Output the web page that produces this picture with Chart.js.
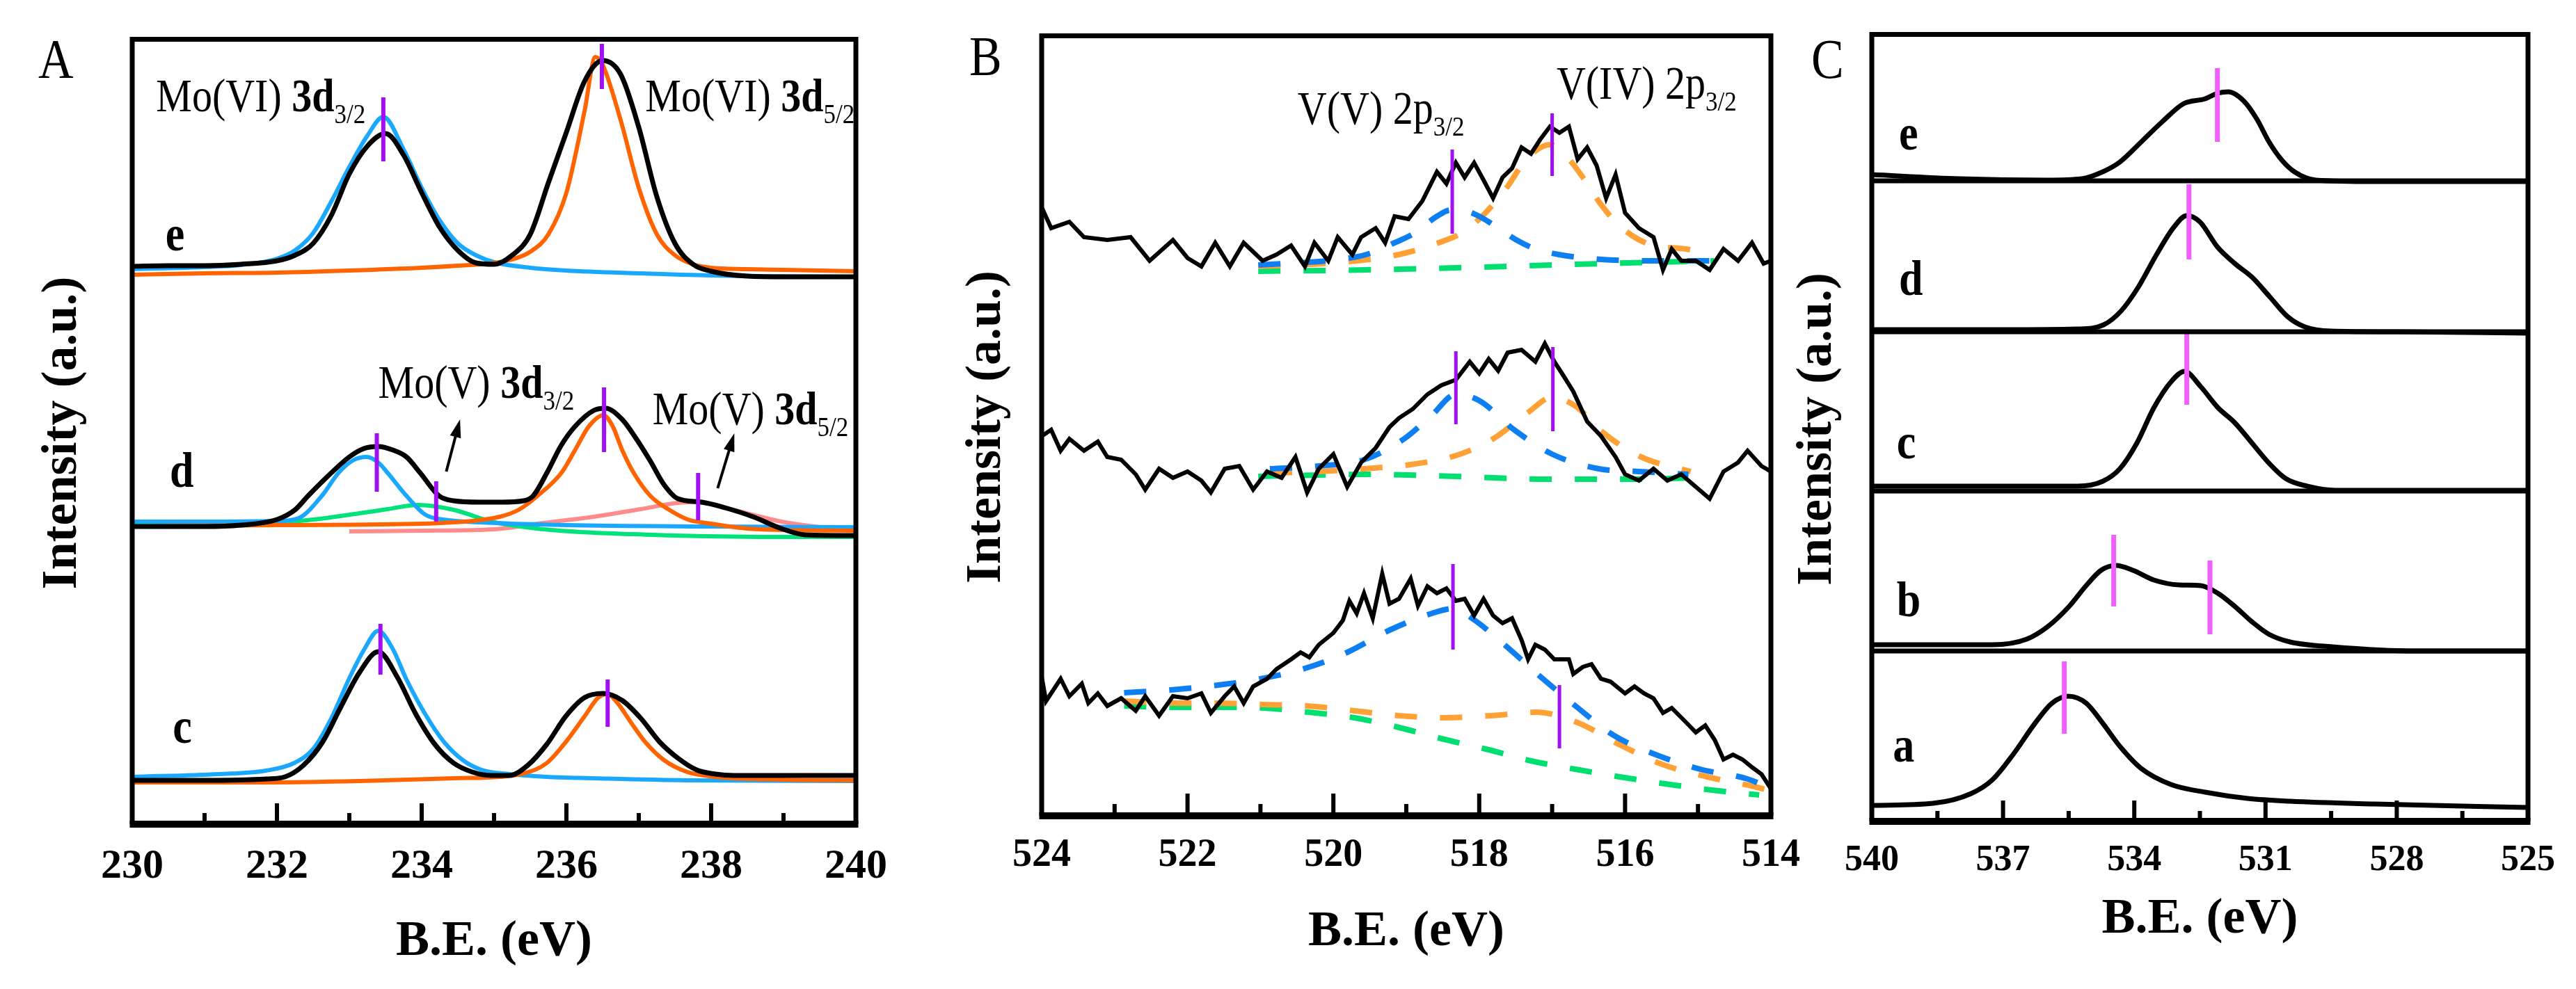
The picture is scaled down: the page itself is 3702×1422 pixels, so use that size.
<!DOCTYPE html>
<html>
<head>
<meta charset="utf-8">
<script src="https://cdn.jsdelivr.net/npm/chart.js@4.4.0/dist/chart.umd.min.js"></script>
<style>
  html, body { margin: 0; padding: 0; background: #fff; }
  body { width: 3702px; height: 1422px; position: relative; overflow: hidden; }
  canvas { position: absolute; top: 0; }
</style>
</head>
<body>
<canvas id="panelA" width="1300" height="1422" style="left:0px"></canvas>
<canvas id="panelB" width="1300" height="1422" style="left:1290px"></canvas>
<canvas id="panelC" width="1162" height="1422" style="left:2540px"></canvas>
<script>
const FONT = '"Liberation Serif", "Times New Roman", serif';
Chart.defaults.font.family = FONT;
Chart.defaults.color = '#000';

// ---------- panel A : Mo 3d (samples e, d, c) ----------
const aTicks = [230, 232, 234, 236, 238, 240];

const aEBlackX = [230, 230.5, 231, 231.5, 232, 232.25, 232.5, 232.75, 233, 233.25, 233.5, 233.75, 234, 234.25, 234.5, 234.75, 235, 235.25, 235.5, 235.75, 236, 236.25, 236.5, 236.75, 237, 237.25, 237.5, 237.75, 238, 238.5, 239, 240];
const aEBlackY = [80.2, 80.3, 80.3, 80.5, 81.0, 81.8, 83.5, 87.5, 93.5, 97.5, 99.3, 96.2, 90.8, 85.8, 82.5, 80.7, 80.5, 81.8, 84.8, 92.2, 99.5, 106.8, 109.8, 107.8, 100.2, 90.2, 83.5, 80.5, 79.5, 78.8, 78.7, 78.7];
const aEBlueX = [230, 231, 231.5, 232, 232.25, 232.5, 232.75, 233, 233.25, 233.47, 233.75, 234, 234.25, 234.5, 234.75, 235, 235.5, 236, 237, 238, 240];
const aEBlueY = [79.8, 80.1, 80.4, 81.3, 82.5, 85.0, 89.5, 94.5, 99.0, 101.7, 97.0, 91.5, 86.8, 83.5, 81.8, 80.8, 80.0, 79.6, 79.2, 78.9, 78.7];
const aEOrangeX = [230, 231, 232, 233, 234, 234.5, 235, 235.25, 235.5, 235.75, 236, 236.25, 236.4, 236.5, 236.75, 237, 237.25, 237.5, 237.75, 238, 238.5, 239, 240];
const aEOrangeY = [79.0, 79.2, 79.3, 79.6, 80.0, 80.3, 80.7, 81.2, 82.3, 84.8, 90.8, 102.5, 110.3, 109.2, 101.2, 91.5, 84.8, 81.8, 80.5, 80.0, 79.8, 79.7, 79.5];

const aDBlackX = [230, 231, 231.5, 232, 232.25, 232.43, 232.75, 233.0, 233.2, 233.4, 233.6, 233.79, 233.98, 234.24, 234.44, 234.8, 235.1, 235.41, 235.54, 235.73, 235.93, 236.12, 236.38, 236.54, 236.77, 236.96, 237.16, 237.35, 237.54, 237.87, 238.19, 238.58, 238.97, 239.3, 240];
const aDBlackY = [42.8, 42.8, 43.0, 43.8, 45.2, 47.2, 50.5, 52.8, 54.0, 54.3, 53.8, 52.8, 50.5, 47.2, 46.5, 46.3, 46.3, 46.5, 47.2, 50.5, 54.5, 57.2, 59.5, 59.8, 58.2, 55.5, 52.2, 48.8, 46.8, 46.3, 45.5, 44.2, 42.5, 41.6, 41.5];
const aDBlueX = [230, 231, 232, 232.3, 232.62, 232.85, 233.05, 233.24, 233.4, 233.53, 233.79, 234.05, 234.3, 234.8, 236, 238, 240];
const aDBlueY = [43.5, 43.5, 43.6, 44.0, 47.2, 50.5, 52.3, 52.8, 52.0, 50.5, 47.2, 44.5, 43.8, 43.4, 43.0, 42.8, 42.7];
const aDGreenX = [230, 231, 231.78, 232.5, 233.14, 233.53, 233.95, 234.44, 234.97, 235.6, 236.2, 236.9, 237.5, 239, 240];
const aDGreenY = [43.3, 43.2, 43.2, 43.8, 44.7, 45.3, 45.9, 45.2, 43.5, 42.5, 42.0, 41.7, 41.5, 41.3, 41.3];
const aDOrangeX = [230, 232, 234, 234.7, 235.08, 235.34, 235.6, 235.93, 236.12, 236.31, 236.51, 236.64, 236.77, 236.93, 237.16, 237.42, 237.68, 238.0, 238.5, 239, 240];
const aDOrangeY = [42.8, 43.0, 43.2, 43.6, 44.2, 45.2, 47.2, 50.5, 53.8, 57.2, 58.8, 57.2, 53.8, 50.5, 47.2, 45.2, 43.8, 43.2, 42.5, 42.3, 42.2];
const aDPinkX = [233, 234, 235, 235.67, 236.38, 237.03, 237.54, 237.8, 238.3, 238.97, 239.5, 240];
const aDPinkY = [42.1, 42.2, 42.4, 43.3, 44.2, 45.3, 46.2, 46.3, 45.2, 43.5, 42.7, 42.3];

const aCBlackX = [230, 231, 231.85, 232.11, 232.37, 232.63, 232.88, 233.14, 233.4, 233.66, 233.92, 234.18, 234.44, 234.7, 234.96, 235.21, 235.47, 235.73, 235.99, 236.25, 236.51, 236.77, 237.03, 237.29, 237.54, 237.8, 238.06, 238.32, 239, 240];
const aCBlackY = [6.3, 6.3, 6.5, 6.8, 8.5, 11.8, 16.8, 21.8, 24.8, 21.2, 15.8, 11.5, 8.8, 7.5, 7.0, 7.0, 8.5, 11.5, 15.5, 18.2, 18.8, 17.8, 15.2, 11.8, 9.5, 7.8, 7.2, 7.0, 7.0, 7.0];
const aCBlueX = [230, 231.2, 231.85, 232.24, 232.5, 232.75, 233.01, 233.21, 233.4, 233.6, 233.79, 234.05, 234.31, 234.57, 234.83, 235.21, 235.73, 236.38, 237.67, 240];
const aCBlueY = [6.8, 7.2, 7.7, 8.8, 10.8, 15.2, 21.2, 25.2, 27.8, 25.2, 20.8, 15.8, 11.8, 9.2, 7.8, 7.2, 6.8, 6.6, 6.3, 6.2];
const aCOrangeX = [230, 231.85, 233.14, 234.44, 235.08, 235.41, 235.73, 235.99, 236.25, 236.44, 236.57, 236.7, 236.9, 237.09, 237.35, 237.67, 238.06, 238.97, 240];
const aCOrangeY = [6.0, 6.0, 6.2, 6.6, 6.8, 7.3, 8.8, 11.8, 15.5, 18.2, 18.7, 17.5, 14.5, 11.8, 9.2, 7.5, 6.8, 6.4, 6.3];

// peak position bars (x, lower and upper end)
const aMarkX = [233.47, 236.49, 233.38, 234.2, 236.52, 237.82, 233.43, 236.57];
const aMarkLo = [95.3, 105.7, 47.8, 43.5, 53.5, 43.7, 21.5, 14.0];
const aMarkHi = [104.5, 112.2, 56.2, 49.3, 62.8, 50.5, 28.8, 20.8];

const aNoteMain = ['Mo(VI) ', 'Mo(VI) ', 'Mo(V) ', 'Mo(V) '];
const aNoteSub = ['3/2', '5/2', '3/2', '5/2'];
const aNoteX = [230.33, 237.09, 233.4, 237.19];
const aNoteY = [102.5, 102.5, 61.3, 57.5];
const aArrowFrom = [[234.34, 50.7], [238.09, 48.3]];
const aArrowTo = [[234.53, 58.2], [238.32, 56.2]];
const aSamples = ['e', 'd', 'c'];
const aSampleX = [230.46, 230.52, 230.56];
const aSampleY = [82.5, 48.5, 11.7];

// ---------- panel B : V 2p (three spectra, top to bottom) ----------
const bTicks = [514, 516, 518, 520, 522, 524];

const bTopX = [524.0, 523.87, 523.62, 523.42, 523.1, 522.78, 522.52, 522.2, 522.0, 521.81, 521.62, 521.42, 521.23, 520.97, 520.78, 520.58, 520.39, 520.26, 520.07, 519.94, 519.74, 519.62, 519.42, 519.29, 519.16, 518.97, 518.78, 518.58, 518.45, 518.32, 518.2, 518.07, 517.94, 517.81, 517.68, 517.55, 517.42, 517.29, 517.16, 517.03, 516.9, 516.77, 516.65, 516.52, 516.39, 516.26, 516.13, 516.0, 515.81, 515.61, 515.48, 515.36, 515.23, 515.03, 514.84, 514.65, 514.45, 514.26, 514.1, 514.0];
const bTopY = [87.5, 84.5, 85.4, 83.2, 82.8, 83.2, 79.8, 82.8, 80.2, 79.0, 82.4, 79.0, 82.4, 79.8, 80.7, 82.0, 79.0, 82.4, 79.8, 83.2, 80.7, 83.2, 84.5, 82.4, 86.2, 85.8, 88.4, 92.6, 90.9, 93.9, 91.8, 93.9, 91.4, 88.8, 91.8, 93.1, 96.1, 95.2, 97.3, 99.1, 98.2, 99.1, 94.4, 96.1, 93.5, 88.8, 92.2, 86.7, 84.5, 83.2, 78.5, 81.5, 79.8, 79.8, 78.5, 81.5, 79.8, 82.4, 79.4, 79.8];
const bTopBlueX = [521.03, 520.5, 520.0, 519.55, 519.16, 518.9, 518.58, 518.39, 518.2, 518.0, 517.81, 517.49, 517.23, 516.91, 516.33, 515.68, 514.78];
const bTopBlueY = [79.2, 79.5, 79.9, 80.7, 82.4, 83.7, 86.2, 87.1, 87.0, 86.2, 85.0, 82.8, 81.5, 80.7, 80.0, 79.8, 79.8];
const bTopOrangeX = [521.03, 520.0, 519.1, 518.45, 518.26, 518.0, 517.81, 517.61, 517.42, 517.23, 517.03, 516.77, 516.58, 516.33, 516.13, 515.87, 515.61, 515.16, 514.97];
const bTopOrangeY = [79.0, 79.5, 80.7, 82.8, 83.7, 85.8, 87.9, 90.5, 93.5, 95.6, 96.5, 94.4, 91.8, 87.9, 85.4, 83.2, 82.0, 81.5, 81.1];
const bTopGreenX = [521.03, 519.55, 517.61, 516.33, 514.78];
const bTopGreenY = [78.3, 78.5, 79.0, 79.4, 79.8];

const bMidX = [524.0, 523.87, 523.74, 523.62, 523.42, 523.23, 523.1, 522.91, 522.71, 522.58, 522.39, 522.2, 522.0, 521.81, 521.68, 521.49, 521.29, 521.1, 520.91, 520.71, 520.52, 520.36, 520.2, 520.0, 519.81, 519.62, 519.42, 519.23, 519.1, 518.91, 518.71, 518.52, 518.32, 518.13, 518.0, 517.87, 517.74, 517.61, 517.42, 517.23, 517.1, 516.97, 516.84, 516.71, 516.52, 516.33, 516.13, 516.0, 515.81, 515.61, 515.42, 515.23, 515.03, 514.84, 514.65, 514.45, 514.32, 514.13, 514.0];
const bMidY = [54.6, 55.5, 52.5, 54.2, 52.5, 53.8, 51.6, 51.2, 49.1, 46.9, 49.9, 48.6, 49.5, 48.2, 46.5, 49.9, 50.3, 46.9, 49.5, 48.6, 51.6, 46.5, 49.9, 52.0, 47.3, 50.8, 52.9, 55.9, 57.2, 58.5, 60.6, 61.9, 62.7, 65.3, 63.6, 65.7, 64.0, 66.6, 67.0, 65.3, 67.9, 65.3, 63.2, 61.0, 56.7, 54.6, 51.6, 49.1, 48.2, 49.9, 48.2, 49.1, 47.3, 45.6, 49.5, 50.8, 52.5, 50.3, 49.5];
const bMidBlueX = [520.87, 520.2, 519.58, 519.03, 518.65, 518.32, 518.0, 517.52, 517.0, 516.36, 515.81, 515.13];
const bMidBlueY = [49.9, 50.3, 51.2, 54.2, 57.6, 60.6, 59.7, 55.5, 52.0, 49.9, 49.5, 49.1];
const bMidOrangeX = [520.87, 520.2, 519.58, 518.94, 518.32, 517.81, 517.33, 517.0, 516.68, 516.29, 515.78, 515.1];
const bMidOrangeY = [49.3, 49.5, 49.9, 50.5, 51.8, 54.2, 58.0, 60.2, 58.9, 55.0, 51.6, 49.5];
const bMidGreenX = [521.03, 519.55, 518.32, 517.03, 515.74, 515.1];
const bMidGreenY = [48.8, 49.1, 48.8, 48.4, 48.4, 48.6];

const bBotX = [524.0, 523.94, 523.74, 523.62, 523.45, 523.36, 523.23, 523.1, 522.91, 522.71, 522.58, 522.39, 522.2, 522.0, 521.81, 521.68, 521.49, 521.36, 521.23, 521.1, 520.91, 520.78, 520.58, 520.45, 520.33, 520.2, 520.0, 519.87, 519.78, 519.68, 519.58, 519.46, 519.33, 519.23, 519.1, 518.94, 518.84, 518.71, 518.58, 518.45, 518.32, 518.2, 518.07, 517.94, 517.81, 517.68, 517.55, 517.42, 517.33, 517.23, 517.1, 516.97, 516.77, 516.71, 516.58, 516.46, 516.33, 516.2, 516.0, 515.87, 515.74, 515.61, 515.48, 515.36, 515.16, 515.03, 514.9, 514.77, 514.65, 514.52, 514.39, 514.26, 514.13, 514.0];
const bBotY = [20.0, 16.5, 19.7, 17.2, 19.0, 16.2, 17.6, 15.8, 16.9, 15.1, 17.2, 14.4, 17.2, 16.9, 17.6, 14.8, 17.2, 18.6, 16.2, 18.6, 19.7, 21.1, 22.5, 23.5, 22.8, 24.6, 26.3, 28.1, 30.9, 29.1, 32.0, 28.4, 34.8, 30.5, 31.2, 34.1, 30.2, 33.0, 32.0, 32.7, 30.9, 31.2, 28.8, 31.2, 28.8, 27.7, 28.4, 25.3, 22.5, 24.6, 23.9, 22.5, 22.5, 20.4, 21.4, 21.8, 19.7, 19.3, 17.6, 18.6, 17.6, 16.9, 14.8, 15.5, 13.4, 12.0, 13.0, 10.9, 8.1, 8.8, 8.1, 7.0, 6.0, 3.9];
const bBotBlueX = [522.87, 522.23, 521.58, 521.0, 520.39, 519.81, 519.23, 518.65, 518.36, 518.1, 517.61, 517.16, 516.68, 516.16, 515.58, 514.97, 514.32, 514.0];
const bBotBlueY = [17.7, 18.1, 18.8, 19.7, 21.2, 23.5, 26.7, 29.1, 29.8, 28.4, 24.2, 20.0, 15.8, 11.6, 8.8, 6.7, 5.3, 3.9];
const bBotOrangeX = [522.87, 522.23, 521.6, 520.97, 520.36, 519.71, 519.1, 518.48, 517.84, 517.21, 516.65, 516.07, 515.49, 514.87, 514.23, 514.0];
const bBotOrangeY = [16.5, 16.2, 16.2, 16.0, 15.8, 15.1, 14.4, 14.1, 14.4, 14.9, 13.4, 10.2, 7.4, 5.6, 4.2, 3.6];
const bBotGreenX = [522.87, 522.23, 521.58, 520.97, 520.34, 519.71, 519.1, 518.52, 517.87, 517.29, 516.68, 516.07, 515.45, 514.81, 514.16];
const bBotGreenY = [15.8, 15.6, 15.6, 15.5, 14.9, 14.1, 12.7, 11.1, 9.5, 7.9, 6.7, 5.6, 4.6, 3.7, 3.0];

const bMarkX = [518.37, 517.0, 518.32, 516.99, 518.36, 516.9];
const bMarkLo = [83.7, 92.0, 56.3, 55.3, 23.9, 9.7];
const bMarkHi = [95.8, 101.0, 66.8, 67.4, 36.2, 18.8];
const bNoteMain = ['V(V) 2p', 'V(IV) 2p'];
const bNoteSub = ['3/2', '3/2'];
const bNoteX = [520.49, 516.94];
const bNoteY = [99.5, 103.1];

// ---------- panel C : O 1s (samples e..a, each above its own floor) ----------
const cTicks = [525, 528, 531, 534, 537, 540];
const cSamples = ['e', 'd', 'c', 'b', 'a'];
const cFloors = [92.1, 70.4, 47.5, 24.5, 0];

const cEX = [540, 538, 536, 535.2, 534.72, 534.33, 533.84, 533.36, 532.87, 532.38, 532.09, 531.85, 531.5, 531.2, 530.92, 530.63, 530.34, 529.85, 528.5, 525];
const cEY = [0.9, 0.3, 0.1, 0.3, 1.3, 2.7, 5.6, 8.5, 11.1, 11.8, 12.6, 12.8, 11.5, 8.9, 5.6, 3.0, 1.3, 0.1, -0.1, -0.1];
const cDX = [540, 537, 535.3, 534.7, 534.3, 533.9, 533.5, 533.1, 532.8, 532.5, 532.1, 531.7, 531.3, 530.9, 530.5, 530.1, 529.5, 528, 525];
const cDY = [0.3, 0.3, 0.4, 1.0, 3.0, 6.5, 11.0, 15.0, 16.7, 15.8, 12.2, 9.8, 7.8, 5.0, 2.2, 0.7, 0.1, 0, -0.2];
const cCX = [540, 535.3, 534.72, 534.33, 533.94, 533.55, 533.16, 532.85, 532.48, 532.09, 531.7, 531.31, 530.92, 530.54, 530.05, 529.4, 525];
const cCY = [0.7, 0.7, 1.4, 3.2, 6.9, 12.0, 15.7, 17.2, 15.0, 12.0, 9.8, 6.9, 4.0, 1.8, 0.7, 0.1, 0.1];
const cBX = [540, 537.24, 536.46, 535.98, 535.49, 535.1, 534.76, 534.42, 534.03, 533.55, 532.97, 532.48, 532.09, 531.7, 531.31, 530.92, 530.44, 529.47, 527.53, 525];
const cBY = [0.9, 0.9, 1.7, 3.5, 6.4, 9.4, 11.6, 12.3, 11.6, 10.2, 9.5, 9.4, 8.3, 6.4, 4.2, 2.4, 1.3, 0.6, 0, 0];
const cAX = [540, 538.6, 537.73, 537.24, 536.76, 536.27, 535.88, 535.51, 535.1, 534.72, 534.33, 533.84, 533.16, 532.38, 531.41, 530.44, 528.5, 525];
const cAY = [2.3, 2.6, 4.0, 6.0, 9.7, 14.1, 17.0, 18.0, 17.0, 14.1, 10.8, 7.6, 5.3, 4.2, 3.3, 2.9, 2.5, 2.0];

// bars: sample index, position, lower / upper end above the floor
const cMarkPanel = [0, 1, 2, 3, 3, 4];
const cMarkX = [532.1, 532.75, 532.8, 534.47, 532.27, 535.6];
const cMarkLo = [5.6, 10.4, 12.4, 6.4, 2.4, 12.6];
const cMarkHi = [16.2, 21.2, 23.1, 16.7, 13.0, 23.0];
const cSampleX = [539.38, 539.38, 539.43, 539.43, 539.52];
const cSampleY = [4.5, 5.3, 4.7, 5.0, 8.6];

// ---------- helpers ----------
const VIOLET = '#a010f0';
const STRETCH = 1.15; // the printed labels are a little taller than wide

function curve(xs, ys, color, width, opts) {
  return Object.assign({
    data: xs.map((x, i) => ({ x: x, y: ys[i] })),
    borderColor: color, borderWidth: width, showLine: true, fill: false,
    pointRadius: 0, pointHoverRadius: 0, cubicInterpolationMode: 'monotone'
  }, opts || {});
}
function bars(xs, lo, hi, color, width) {
  return xs.map((x, i) => ({
    data: [{ x: x, y: lo[i] }, { x: x, y: hi[i] }],
    borderColor: color, borderWidth: width, showLine: true, pointRadius: 0, pointHoverRadius: 0
  }));
}
function seg(ctx, x0, y0, x1, y1) {
  ctx.beginPath(); ctx.moveTo(x0, y0); ctx.lineTo(x1, y1); ctx.stroke();
}
function tallText(ctx, text, x, y) {
  ctx.save();
  ctx.translate(x, y);
  ctx.scale(1, STRETCH);
  ctx.fillText(text, 0, 0);
  ctx.restore();
}

// frame, inward ticks, separators, labels and arrows
const decor = {
  id: 'decor',
  afterDraw(chart) {
    const ctx = chart.ctx, ca = chart.chartArea;
    const x = chart.scales.x, y = chart.scales.y;
    const st = chart.config.options.decorStyle;
    ctx.save();
    ctx.strokeStyle = '#000';
    ctx.fillStyle = '#000';
    ctx.lineCap = 'butt';

    (st.floors || []).forEach(v => {
      if (v <= 0) return;
      const py = y.getPixelForValue(v);
      ctx.lineWidth = st.sepWidth;
      seg(ctx, ca.left, py, ca.right, py);
    });

    ctx.lineWidth = st.frame;
    seg(ctx, ca.left, ca.top - st.frame / 2, ca.right, ca.top - st.frame / 2);
    seg(ctx, ca.left, ca.top - st.frame, ca.left, ca.bottom);
    seg(ctx, ca.right, ca.top - st.frame, ca.right, ca.bottom);
    ctx.lineWidth = st.axis;
    seg(ctx, ca.left - st.frame / 2, ca.bottom, ca.right + st.frame / 2, ca.bottom);

    // ticks pointing into the plot from the bottom axis
    const tv = st.tickValues;
    ctx.lineWidth = st.tickWidth;
    for (let i = 0; i < tv.length; i++) {
      const px = x.getPixelForValue(tv[i]);
      seg(ctx, px, ca.bottom, px, ca.bottom - st.tickLong);
      if (i < tv.length - 1) {
        const m = x.getPixelForValue((tv[i] + tv[i + 1]) / 2);
        seg(ctx, m, ca.bottom, m, ca.bottom - st.tickShort);
      }
    }

    ctx.textAlign = 'left';
    ctx.textBaseline = 'alphabetic';
    (st.notes || []).forEach(n => {
      let px = x.getPixelForValue(n.x);
      const py = y.getPixelForValue(n.y);
      ctx.font = `normal ${n.size}px ${FONT}`;
      tallText(ctx, n.main, px, py);
      px += ctx.measureText(n.main).width;
      if (n.bold) {
        ctx.font = `bold ${n.size}px ${FONT}`;
        tallText(ctx, n.bold, px, py);
        px += ctx.measureText(n.bold).width;
      }
      ctx.font = `normal ${Math.round(n.size * 0.6)}px ${FONT}`;
      tallText(ctx, n.sub, px, py + n.size * 0.3);
    });
    (st.letters || []).forEach(n => {
      ctx.font = `bold ${n.size}px ${FONT}`;
      tallText(ctx, n.text, x.getPixelForValue(n.x), y.getPixelForValue(n.y));
    });

    (st.arrows || []).forEach(a => {
      const x0 = x.getPixelForValue(a.from[0]), y0 = y.getPixelForValue(a.from[1]);
      const x1 = x.getPixelForValue(a.to[0]), y1 = y.getPixelForValue(a.to[1]);
      const ang = Math.atan2(y1 - y0, x1 - x0), L = 26, W = 8;
      ctx.lineWidth = 4;
      seg(ctx, x0, y0, x1 - Math.cos(ang) * L * 0.8, y1 - Math.sin(ang) * L * 0.8);
      ctx.beginPath();
      ctx.moveTo(x1, y1);
      ctx.lineTo(x1 - Math.cos(ang) * L + Math.sin(ang) * W, y1 - Math.sin(ang) * L - Math.cos(ang) * W);
      ctx.lineTo(x1 - Math.cos(ang) * L - Math.sin(ang) * W, y1 - Math.sin(ang) * L + Math.cos(ang) * W);
      ctx.closePath();
      ctx.fill();
    });

    if (st.panel) {
      ctx.font = `normal ${st.panel.size}px ${FONT}`;
      tallText(ctx, st.panel.text, ca.left + st.panel.dx, ca.top + st.panel.dy);
    }
    ctx.restore();
  }
};

function panel(id, p) {
  p.decor.tickValues = p.ticks.slice();
  return new Chart(document.getElementById(id), {
    type: 'scatter',
    data: { datasets: p.datasets },
    options: {
      responsive: false, animation: false, devicePixelRatio: 1,
      events: [],
      decorStyle: p.decor,
      layout: { padding: { top: p.top, right: p.right, left: 0, bottom: 0 } },
      plugins: { legend: { display: false }, tooltip: { enabled: false } },
      scales: {
        x: {
          type: 'linear', min: p.xMin, max: p.xMax, reverse: !!p.reverse,
          afterBuildTicks: s => { s.ticks = p.ticks.map(v => ({ value: v })); },
          afterFit: s => { s.height = 1422 - p.bottom; },
          grid: { display: false, drawTicks: false },
          border: { display: false },
          ticks: { padding: p.tickPad, autoSkip: false, maxRotation: 0, color: '#000',
                   font: { size: p.tickSize, weight: 'bold' } },
          title: { display: true, text: 'B.E. (eV)', color: '#000',
                   font: { size: 72, weight: 'bold' }, padding: { top: 0, bottom: p.xTitlePad } }
        },
        y: {
          type: 'linear', min: 0, max: p.yMax,
          afterFit: s => { s.width = p.left; },
          grid: { display: false, drawTicks: false },
          border: { display: false },
          ticks: { display: false },
          title: { display: true, text: 'Intensity (a.u.)', color: '#000',
                   font: { size: 72, weight: 'bold' }, padding: { top: p.yTitlePad, bottom: 0 } }
        }
      }
    },
    plugins: [decor]
  });
}

// ---------- panel A ----------
const A_BLUE = '#1aa8ff', A_ORANGE = '#ff6400', A_GREEN = '#00e27a', A_PINK = '#ff8c8c';
panel('panelA', {
  top: 60, right: 36, left: 190, bottom: 1185,
  xMin: 230, xMax: 240, ticks: aTicks, tickSize: 60, tickPad: 25,
  xTitlePad: 24, yTitlePad: 47, yMax: 112.5,
  datasets: [
    ...bars(aMarkX, aMarkLo, aMarkHi, VIOLET, 6),
    curve(aEBlackX, aEBlackY, '#000', 7),
    curve(aDBlackX, aDBlackY, '#000', 7),
    curve(aCBlackX, aCBlackY, '#000', 7),
    curve(aEOrangeX, aEOrangeY, A_ORANGE, 6),
    curve(aDOrangeX, aDOrangeY, A_ORANGE, 6),
    curve(aCOrangeX, aCOrangeY, A_ORANGE, 6),
    curve(aEBlueX, aEBlueY, A_BLUE, 6),
    curve(aDBlueX, aDBlueY, A_BLUE, 6),
    curve(aCBlueX, aCBlueY, A_BLUE, 6),
    curve(aDGreenX, aDGreenY, A_GREEN, 6),
    curve(aDPinkX, aDPinkY, A_PINK, 6)
  ],
  decor: {
    frame: 7, axis: 10, tickWidth: 6, tickLong: 30, tickShort: 16,
    notes: aNoteMain.map((m, i) => ({ x: aNoteX[i], y: aNoteY[i], main: m, bold: '3d', sub: aNoteSub[i], size: 58 })),
    letters: aSamples.map((t, i) => ({ x: aSampleX[i], y: aSampleY[i], text: t, size: 62 })),
    arrows: aArrowFrom.map((f, i) => ({ from: f, to: aArrowTo[i] })),
    panel: { text: 'A', size: 70, dx: -135, dy: 52 }
  }
});

// ---------- panel B ----------
const B_BLUE = '#0d7ff2', B_ORANGE = '#ffa134', B_GREEN = '#00df70';
const DASH = { borderDash: [32, 33] };
const NOISY = { cubicInterpolationMode: 'default', tension: 0 };
panel('panelB', {
  top: 55, right: 45, left: 207, bottom: 1173,
  xMin: 514, xMax: 524, reverse: true, ticks: bTicks, tickSize: 56, tickPad: 24,
  xTitlePad: 38, yTitlePad: 85, yMax: 111.8,
  datasets: [
    ...bars(bMarkX, bMarkLo, bMarkHi, VIOLET, 5),
    curve(bTopX, bTopY, '#000', 6, NOISY),
    curve(bMidX, bMidY, '#000', 6, NOISY),
    curve(bBotX, bBotY, '#000', 6, NOISY),
    curve(bTopBlueX, bTopBlueY, B_BLUE, 8, DASH),
    curve(bMidBlueX, bMidBlueY, B_BLUE, 8, DASH),
    curve(bBotBlueX, bBotBlueY, B_BLUE, 8, DASH),
    curve(bTopOrangeX, bTopOrangeY, B_ORANGE, 8, DASH),
    curve(bMidOrangeX, bMidOrangeY, B_ORANGE, 8, DASH),
    curve(bBotOrangeX, bBotOrangeY, B_ORANGE, 8, DASH),
    curve(bTopGreenX, bTopGreenY, B_GREEN, 8, DASH),
    curve(bMidGreenX, bMidGreenY, B_GREEN, 8, DASH),
    curve(bBotGreenX, bBotGreenY, B_GREEN, 8, DASH)
  ],
  decor: {
    frame: 7, axis: 10, tickWidth: 6, tickLong: 32, tickShort: 17,
    notes: bNoteMain.map((m, i) => ({ x: bNoteX[i], y: bNoteY[i], main: m, sub: bNoteSub[i], size: 58 })),
    panel: { text: 'B', size: 70, dx: -104, dy: 53 }
  }
});

// ---------- panel C ----------
const cCurves = [[cEX, cEY], [cDX, cDY], [cCX, cCY], [cBX, cBY], [cAX, cAY]];
const C_PINK = '#f060ff';
panel('panelC', {
  top: 53, right: 69, left: 150, bottom: 1181,
  xMin: 525, xMax: 540, reverse: true, ticks: cTicks, tickSize: 52, tickPad: 25,
  xTitlePad: 56, yTitlePad: 29, yMax: 112.8,
  datasets: [
    ...bars(cMarkX, cMarkPanel.map((k, i) => cFloors[k] + cMarkLo[i]),
            cMarkPanel.map((k, i) => cFloors[k] + cMarkHi[i]), C_PINK, 7),
    ...cCurves.map((c, k) => curve(c[0], c[1].map(v => v + cFloors[k]), '#000', 7))
  ],
  decor: {
    frame: 7, axis: 10, tickWidth: 6, tickLong: 30, tickShort: 15, sepWidth: 7, floors: cFloors,
    letters: cSamples.map((t, k) => ({ x: cSampleX[k], y: cFloors[k] + cSampleY[k], text: t, size: 62 })),
    panel: { text: 'C', size: 70, dx: -87, dy: 59 }
  }
});
</script>
</body>
</html>
